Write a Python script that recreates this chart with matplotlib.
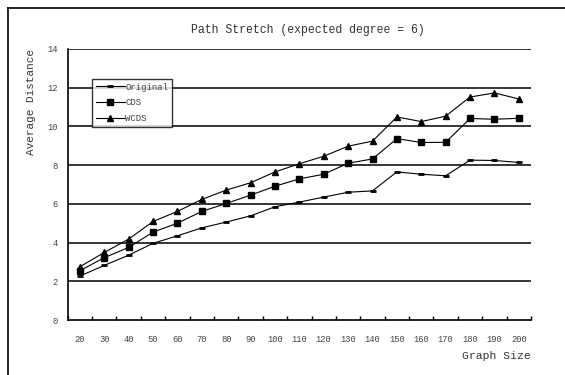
import matplotlib.pyplot as plt
from matplotlib.lines import Line2D
import numpy as np

# データ
sizes = [20, 30, 40, 50, 60, 70, 80, 90, 100, 110, 120, 130, 140, 150, 160, 170, 180, 190, 200]
original = [2.27, 2.82, 3.35, 3.96, 4.35, 4.76, 5.06, 5.38, 5.85, 6.09, 6.35, 6.60, 6.67,
            7.65, 7.53, 7.45, 8.26, 8.24, 8.14]
cds = [2.55, 3.22, 3.75, 4.54, 5.00, 5.61, 6.02, 6.45, 6.91, 7.29, 7.53, 8.10, 8.32,
       9.37, 9.17, 9.18, 10.41, 10.37, 10.42]
wcds = [2.75, 3.49, 4.18, 5.09, 5.61, 6.23, 6.71, 7.09, 7.65, 8.07, 8.46, 8.98, 9.24,
        10.49, 10.25, 10.53, 11.52, 11.73, 11.42]
y_ticks = [0, 2, 4, 6, 8, 10, 12, 14]

plt.rcParams['font.family'] = ['Liberation Mono', 'DejaVu Sans']

W, H = 565, 375
fig = plt.figure(figsize=(W / 100, H / 100), dpi=100)
ax = fig.add_axes([67.7 / W, 1 - 320 / H, (531 - 67.7) / W, (320 - 49) / H])

x = np.arange(len(sizes))

# 外枠（左と上のみ）
fig.add_artist(Line2D([7.5 / W, 7.5 / W], [0, 1 - 8 / H], color="black", lw=1.2))
fig.add_artist(Line2D([7.5 / W, 1], [1 - 8 / H, 1 - 8 / H], color="black", lw=1.2))

# グリッド
for yv in y_ticks[1:]:
    ax.axhline(yv, color="black", lw=1.1, zorder=1)

ax.plot(x, original, color="black", lw=0.8, marker="_", ms=5, mew=2, label="Original", zorder=3)
ax.plot(x, cds, color="black", lw=0.8, marker="s", ms=4.5, label="CDS", zorder=3)
ax.plot(x, wcds, color="black", lw=0.8, marker="^", ms=5, label="WCDS", zorder=3)

ax.set_xlim(-0.5, len(sizes) - 0.5)
ax.set_ylim(0, 14)
ax.set_yticks(y_ticks)
ax.set_yticklabels([str(v) for v in y_ticks], fontsize=6.3, color="#444444")
ax.tick_params(axis="y", length=0, pad=7)

ax.set_xticks(x)
ax.set_xticklabels([str(s) for s in sizes], fontsize=6.3, color="#444444")
ax.set_xticks(np.arange(len(sizes) + 1) - 0.5, minor=True)
ax.tick_params(axis="x", which="major", length=0, pad=11)
ax.tick_params(axis="x", which="minor", length=3, direction="in", width=1)

for s in ["top", "right"]:
    ax.spines[s].set_visible(False)
ax.spines["left"].set_linewidth(1.2)
ax.spines["bottom"].set_linewidth(1.2)

# 凡例
leg = ax.legend(loc="upper left", bbox_to_anchor=((92 - 67.7) / (531 - 67.7), (320 - 79) / (320 - 49)),
                fontsize=6.5, frameon=True, fancybox=False, edgecolor="black",
                handlelength=3.2, handletextpad=0.1, borderpad=0.4, labelspacing=0.75,
                borderaxespad=0, labelcolor="#444444")
leg.get_frame().set_linewidth(1.0)

# ラベル
fig.text(308 / W, 1 - 30 / H, "Path Stretch (expected degree = 6)", ha="center", va="center",
         fontsize=8.3, color="#333333")
fig.text(31 / W, 1 - 49 / H, "Average Distance", rotation=90, ha="center", va="top",
         fontsize=7.9, color="#333333")
fig.text(531 / W, 1 - 356 / H, "Graph Size", ha="right", va="center", fontsize=8.2,
         color="#333333")

fig.savefig("out.png", dpi=100)
